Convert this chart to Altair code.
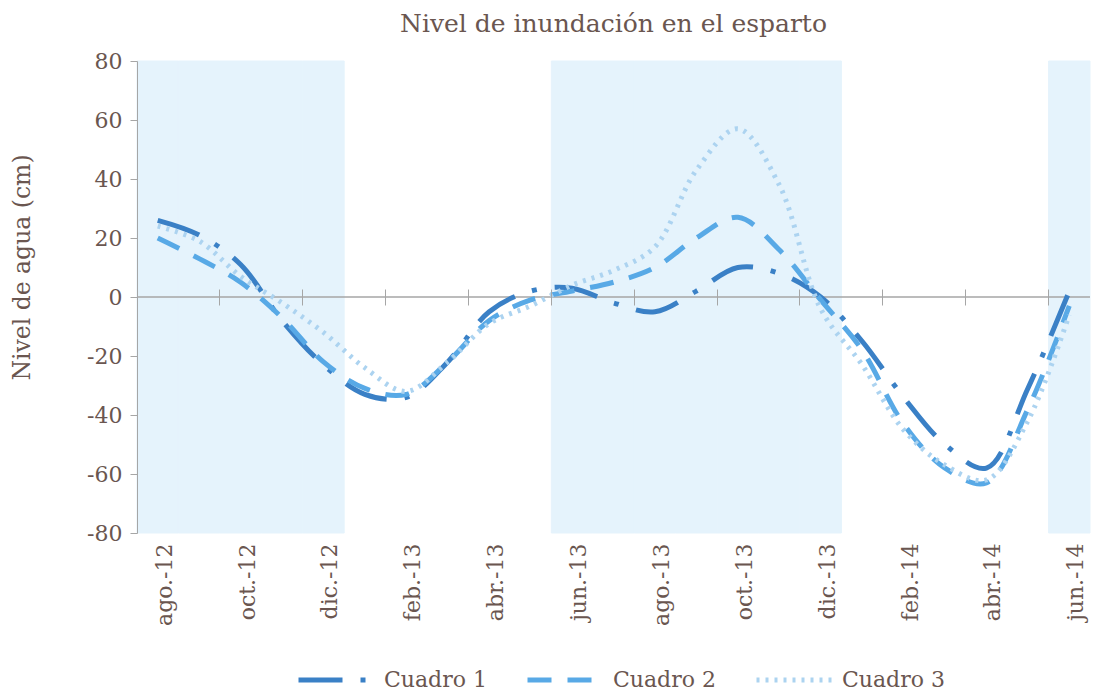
import altair as alt
import pandas as pd

# ---- data -------------------------------------------------------------
meses = ["ago.-12", "sep.-12", "oct.-12", "nov.-12", "dic.-12", "ene.-13",
         "feb.-13", "mar.-13", "abr.-13", "may.-13", "jun.-13", "jul.-13",
         "ago.-13", "sep.-13", "oct.-13", "nov.-13", "dic.-13", "ene.-14",
         "feb.-14", "mar.-14", "abr.-14", "may.-14", "jun.-14"]
cuadro_1 = [26, 21, 11, -8, -23, -33, -34, -22, -5, 2, 3, -2, -5, 2, 10, 8, 0,
            -15, -34, -50, -58, -31, 2]
cuadro_2 = [20, 13, 5, -7, -22, -31, -33, -22, -8, -1, 2, 5, 10, 20, 27, 16, -1,
            -18, -43, -58, -63, -38, -3]
cuadro_3 = [24, 19, 7, -2, -12, -24, -32, -22, -9, -3, 4, 9, 17, 43, 57, 38, -4,
            -23, -45, -57, -62, -42, -6]
series = ["Cuadro 1", "Cuadro 2", "Cuadro 3"]
meses_sombreados = ["ago.-12", "sep.-12", "oct.-12", "nov.-12", "dic.-12",
                    "jun.-13", "jul.-13", "ago.-13", "sep.-13", "oct.-13",
                    "nov.-13", "dic.-13", "jun.-14"]
etiquetas_x = meses[::2]
valores_y = [-80, -60, -40, -20, 0, 20, 40, 60, 80]
limite_sup = [80]
limite_inf = [-80]
linea_cero = [0]

# ---- styles -----------------------------------------------------------
SERIF = "DejaVu Serif"
TEXT = "#6a5650"
AXIS = "#a6a6a6"
SHADE = "#e5f3fc"
colores = ["#3a80c6", "#58a9e6", "#acd3f0"]
trazos = [[44, 18, 5, 18], [24, 16], [3, 6]]
grosores = [5, 5, 3.5]
W, H = 953, 472

rows = []
for s, vals in zip(series, [cuadro_1, cuadro_2, cuadro_3]):
    for i, (m, v) in enumerate(zip(meses, vals)):
        rows.append({"serie": s, "mes": m, "valor": v, "orden": i})
df = pd.DataFrame(rows)
df_s = pd.DataFrame({"mes": meses_sombreados,
                     "sup": limite_sup * len(meses_sombreados),
                     "inf": limite_inf * len(meses_sombreados)})
df_0 = pd.DataFrame({"cero": linea_cero})

x_scale = alt.Scale(type="band", domain=meses, paddingInner=0, paddingOuter=0)
y_scale = alt.Scale(domain=[-80, 80], nice=False, zero=False)

y_axis = alt.Axis(values=valores_y, title="Nivel de agua (cm)", grid=False,
                  labelExpr="'' + datum.value", zindex=1,
                  labelFont=SERIF, labelFontSize=22, labelColor=TEXT,
                  labelPadding=8, tickSize=7, tickColor=AXIS, domainColor=AXIS,
                  titleFont=SERIF, titleFontSize=23.5, titleFontWeight="normal",
                  titleColor=TEXT, titleX=-115, titleY=206, titleAlign="center",
                  titleBaseline="middle", titleAngle=270)

axis_labels = alt.Axis(values=etiquetas_x, labelAngle=-90, ticks=False,
                       domain=False, grid=False, title=None, labelFont=SERIF,
                       labelFontSize=22, labelColor=TEXT, labelPadding=10,
                       labelOffset=7)
axis_ticks = alt.Axis(values=etiquetas_x, labels=False, ticks=True, tickSize=16,
                      tickColor=AXIS, tickWidth=1, domain=False, grid=False,
                      title=None, offset=-(H / 2 + 8), bandPosition=0, zindex=1)

legend = alt.Legend(title=None, orient="none", legendX=159, legendY=579,
                    direction="horizontal", symbolType="stroke",
                    symbolSize=5625, labelFont=SERIF, labelFontSize=22,
                    labelColor=TEXT, columnPadding=30, labelOffset=8, padding=0)

sombra = alt.Chart(df_s).mark_rect(color=SHADE, stroke=SHADE, strokeWidth=1).encode(
    x=alt.X("mes:N", scale=x_scale, axis=axis_labels),
    y=alt.Y("sup:Q", scale=y_scale, axis=y_axis),
    y2="inf:Q",
)

cero = alt.Chart(df_0).mark_rule(color=AXIS, strokeWidth=1.3).encode(
    y=alt.Y("cero:Q", scale=y_scale, axis=y_axis)
)

lineas = alt.Chart(df).mark_line(interpolate="catmull-rom").encode(
    x=alt.X("mes:N", scale=x_scale, bandPosition=0.5, axis=axis_ticks),
    y=alt.Y("valor:Q", scale=y_scale, axis=y_axis),
    color=alt.Color("serie:O", scale=alt.Scale(domain=series, range=colores),
                    legend=legend),
    strokeDash=alt.StrokeDash("serie:O", scale=alt.Scale(domain=series, range=trazos),
                              legend=legend),
    strokeWidth=alt.StrokeWidth("serie:O", scale=alt.Scale(domain=series, range=grosores),
                                legend=legend),
    order=alt.Order("orden:Q"),
)

chart = alt.layer(sombra, cero, lineas).resolve_axis(x="independent").properties(
    width=W, height=H,
    title=alt.TitleParams(text="Nivel de inundación en el esparto", font=SERIF,
                          fontSize=25, fontWeight="normal", color=TEXT,
                          anchor="middle", offset=13),
    autosize=alt.AutoSizeParams(type="none"),
    padding={"left": 129, "top": 53, "right": 1, "bottom": 160},
).configure_view(stroke=None).configure_axis(grid=False)

chart.save("out.html", embed_options={"renderer": "svg", "actions": False})
